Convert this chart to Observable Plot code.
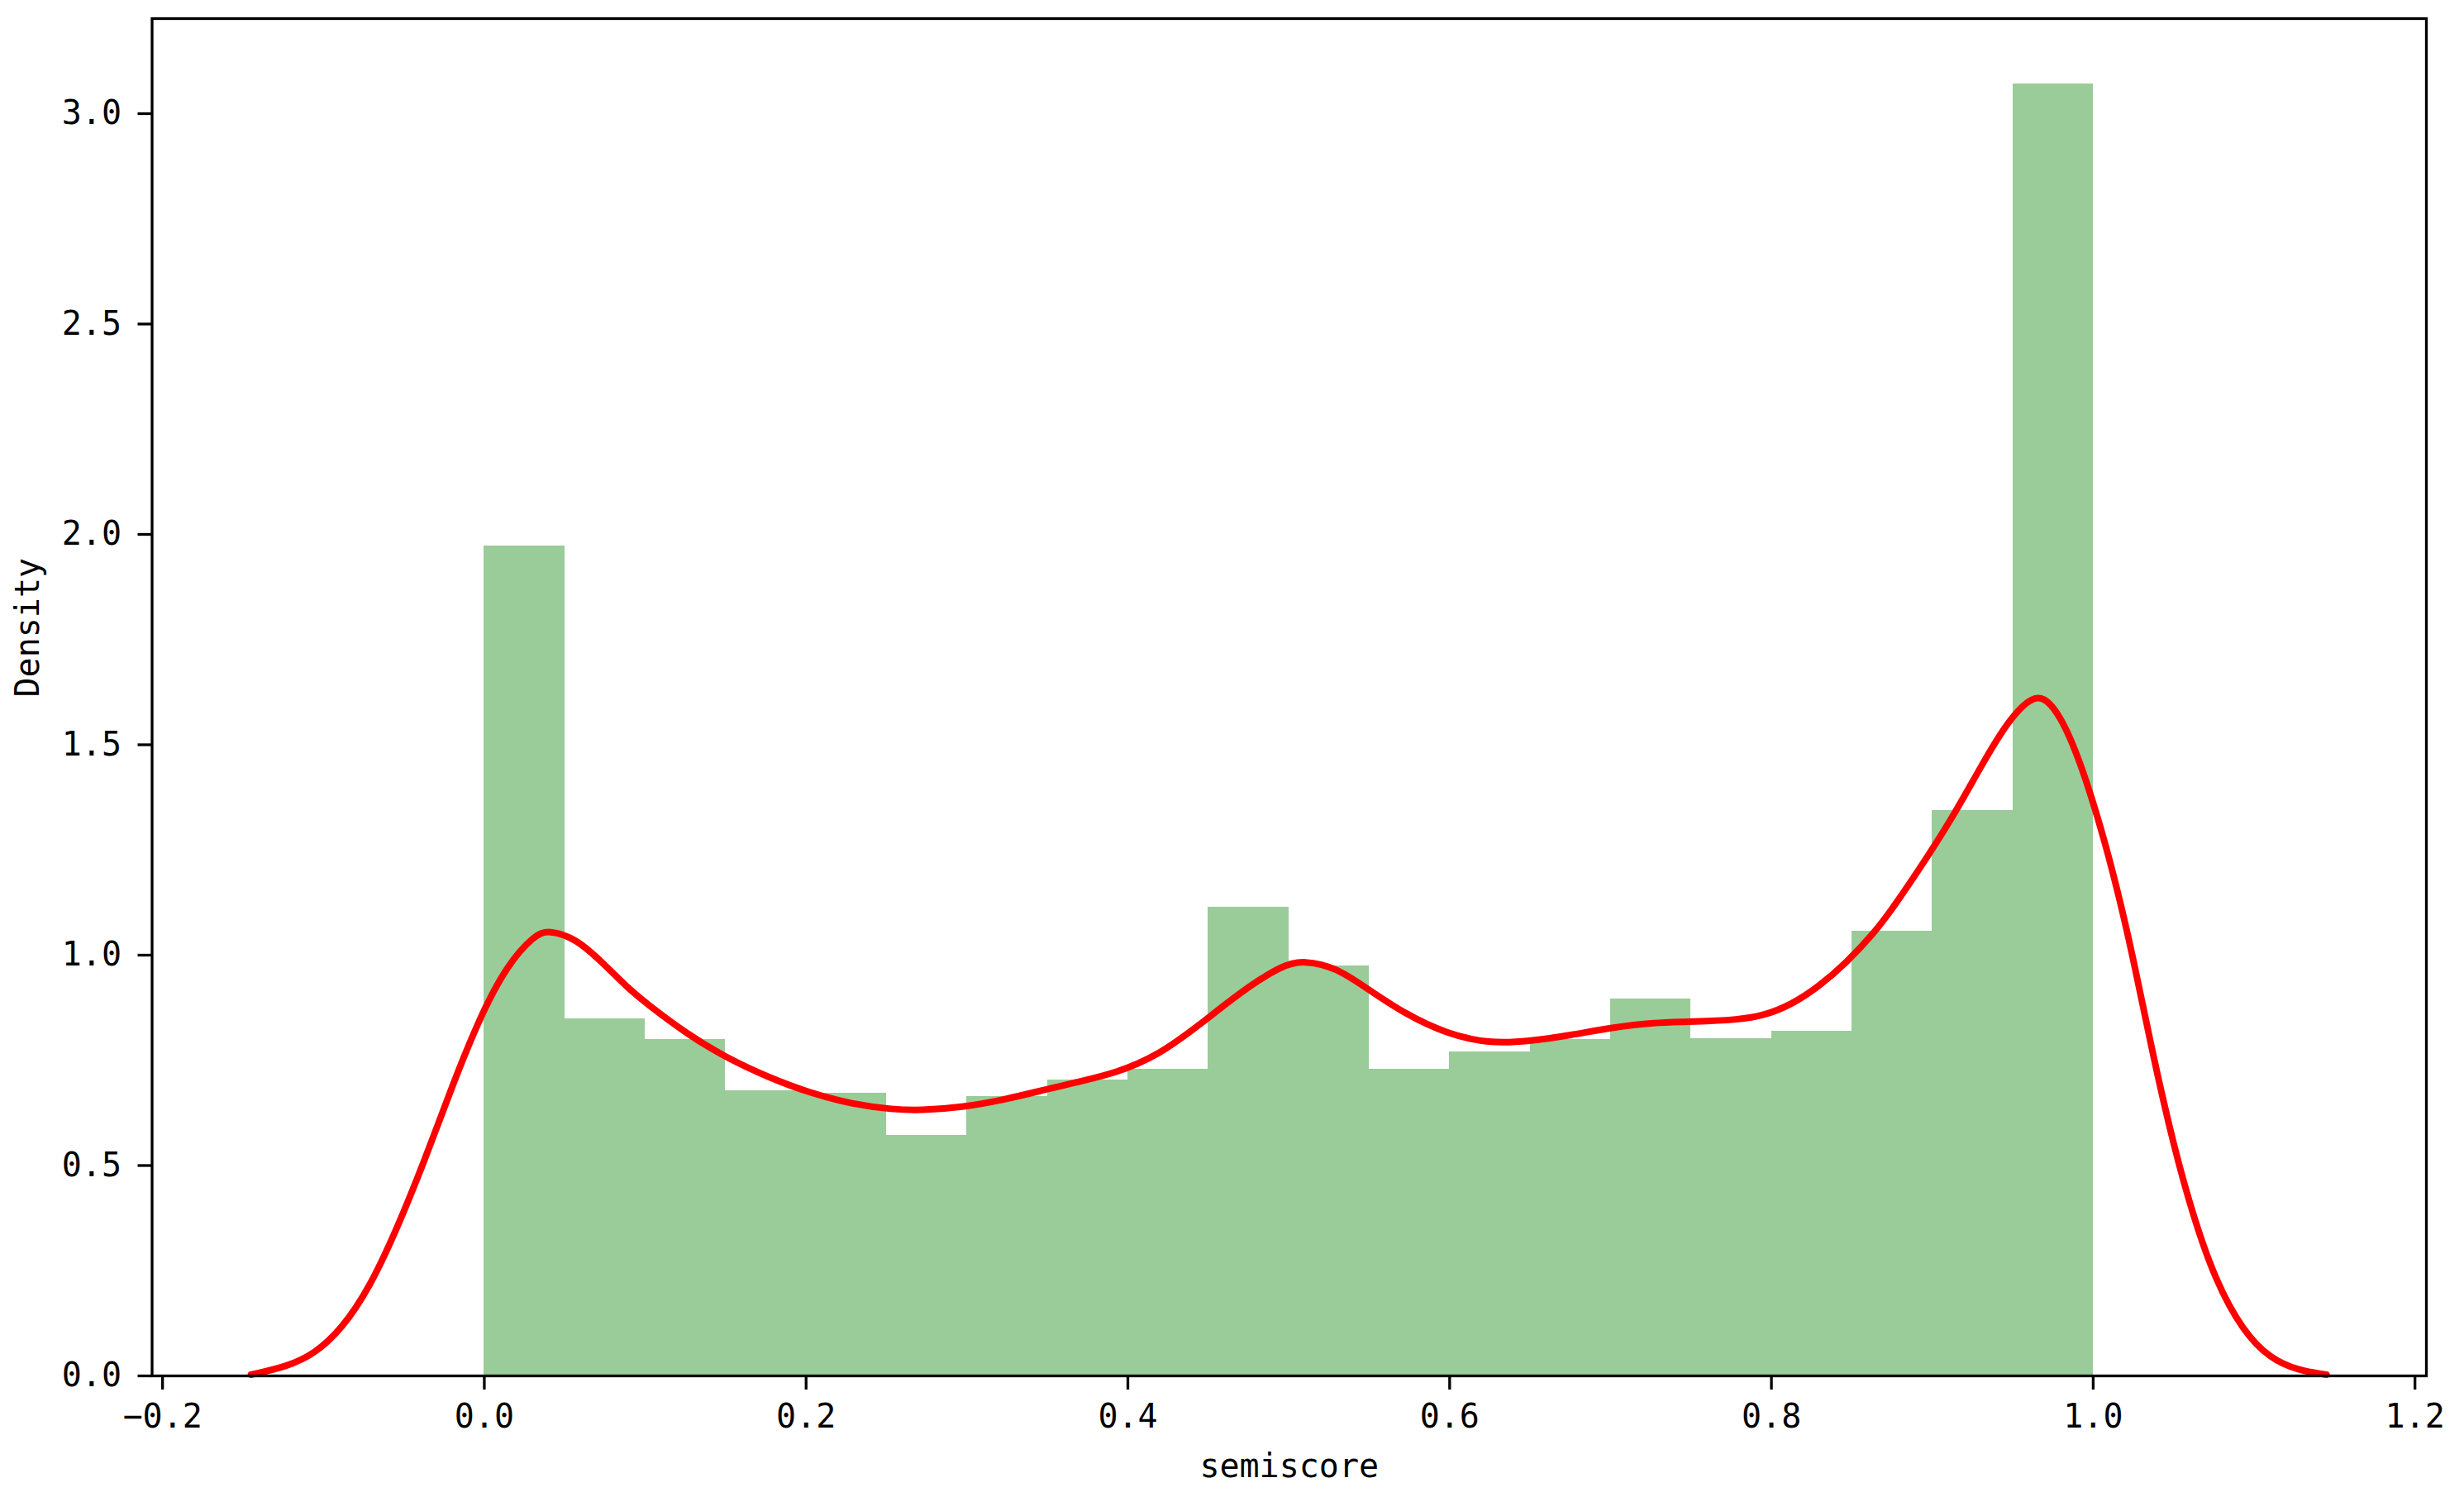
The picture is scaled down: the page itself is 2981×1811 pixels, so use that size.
<!DOCTYPE html>
<html>
<head>
<meta charset="utf-8">
<script src="https://cdn.jsdelivr.net/npm/d3@7"></script>
<script src="https://cdn.jsdelivr.net/npm/@observablehq/plot@0.6"></script>
<style>
  html, body { margin: 0; padding: 0; background: white; }
</style>
</head>
<body>
<div id="chart"></div>
<script>
// Histogram bins (semiscore) and their densities
const binStart = [0.00, 0.05, 0.10, 0.15, 0.20, 0.25, 0.30, 0.35, 0.40, 0.45,
                  0.50, 0.55, 0.60, 0.65, 0.70, 0.75, 0.80, 0.85, 0.90, 0.95];
const binEnd   = [0.05, 0.10, 0.15, 0.20, 0.25, 0.30, 0.35, 0.40, 0.45, 0.50,
                  0.55, 0.60, 0.65, 0.70, 0.75, 0.80, 0.85, 0.90, 0.95, 1.00];
const density  = [1.972, 0.849, 0.800, 0.677, 0.671, 0.572, 0.664, 0.703, 0.729, 1.114,
                  0.975, 0.728, 0.770, 0.800, 0.895, 0.802, 0.819, 1.056, 1.343, 3.071];

// KDE curve
const kdeX = [-0.145, -0.1227, -0.1056, -0.0885, -0.0714, -0.0543, -0.0371, -0.020, -0.0029, 0.0142,
              0.0313, 0.0399, 0.057, 0.0741, 0.0912, 0.0999, 0.1257, 0.1514, 0.177, 0.2027,
              0.2284, 0.2541, 0.2712, 0.2969, 0.3226, 0.3483, 0.3671, 0.3928, 0.4185, 0.4442,
              0.4699, 0.4956, 0.5093, 0.5298, 0.547, 0.5727, 0.5984, 0.6241, 0.6496, 0.6753,
              0.701, 0.7267, 0.7524, 0.7781, 0.7952, 0.8123, 0.8294, 0.8466, 0.8637, 0.8756,
              0.8962, 0.9133, 0.9304, 0.9475, 0.963, 0.9732, 0.9852, 0.9989, 1.0126, 1.0246,
              1.0366, 1.0503, 1.0623, 1.076, 1.0931, 1.1103, 1.1274, 1.145];
const kdeY = [0.003, 0.022, 0.052, 0.112, 0.209, 0.349, 0.512, 0.689, 0.852, 0.977,
              1.048, 1.060, 1.040, 0.980, 0.915, 0.888, 0.813, 0.754, 0.709, 0.672,
              0.646, 0.633, 0.631, 0.638, 0.656, 0.680, 0.697, 0.720, 0.761, 0.833,
              0.912, 0.976, 0.988, 0.970, 0.925, 0.859, 0.813, 0.790, 0.795, 0.810,
              0.828, 0.840, 0.842, 0.846, 0.856, 0.882, 0.925, 0.982, 1.052, 1.112,
              1.229, 1.332, 1.450, 1.560, 1.620, 1.605, 1.528, 1.381, 1.196, 1.000,
              0.771, 0.542, 0.378, 0.226, 0.106, 0.040, 0.013, 0.003];

const xTicks = [-0.2, 0.0, 0.2, 0.4, 0.6, 0.8, 1.0, 1.2];
const yTicks = [0.0, 0.5, 1.0, 1.5, 2.0, 2.5, 3.0];
const xLabel = "semiscore";
const yLabel = "Density";

const bars = binStart.map((s, i) => ({x1: s, x2: binEnd[i], y: density[i]}));
const kde = kdeX.map((x, i) => ({x, y: kdeY[i]}));
const fmt = d => d3.format(".1f")(d).replace("-", "\u2212");
const FONT = "'DejaVu Sans Mono', monospace";

const chart = Plot.plot({
  width: 2981,
  height: 1811,
  marginLeft: 183.5,
  marginRight: 46,
  marginTop: 22,
  marginBottom: 147,
  style: {fontFamily: FONT, fontSize: "40px", color: "black", background: "white"},
  x: {domain: [-0.2065, 1.2071]},
  y: {domain: [0, 3.2259]},
  marks: [
    Plot.rectY(bars, {x1: "x1", x2: "x2", y: "y", fill: "#99cc99", inset: 0, shapeRendering: "crispEdges"}),
    Plot.line(kde, {x: "x", y: "y", stroke: "#ff0000", strokeWidth: 8, curve: "basis"}),
    Plot.axisX({ticks: xTicks, tickFormat: fmt, tickSize: 17, tickPadding: 17, strokeWidth: 3.3, label: null}),
    Plot.axisY({ticks: yTicks, tickFormat: fmt, tickSize: 17, tickPadding: 20, strokeWidth: 3.3, label: null}),
    Plot.text([xLabel], {frameAnchor: "bottom", dy: 110, text: d => d, lineAnchor: "middle", fontSize: 40, fontFamily: FONT, fill: "black"}),
    Plot.text([yLabel], {frameAnchor: "left", dx: -149.5, rotate: -90, text: d => d, lineAnchor: "middle", fontSize: 40, fontFamily: FONT, fill: "black"}),
    Plot.frame({stroke: "black", strokeWidth: 3.3})
  ]
});
document.getElementById("chart").appendChild(chart);
</script>
</body>
</html>
